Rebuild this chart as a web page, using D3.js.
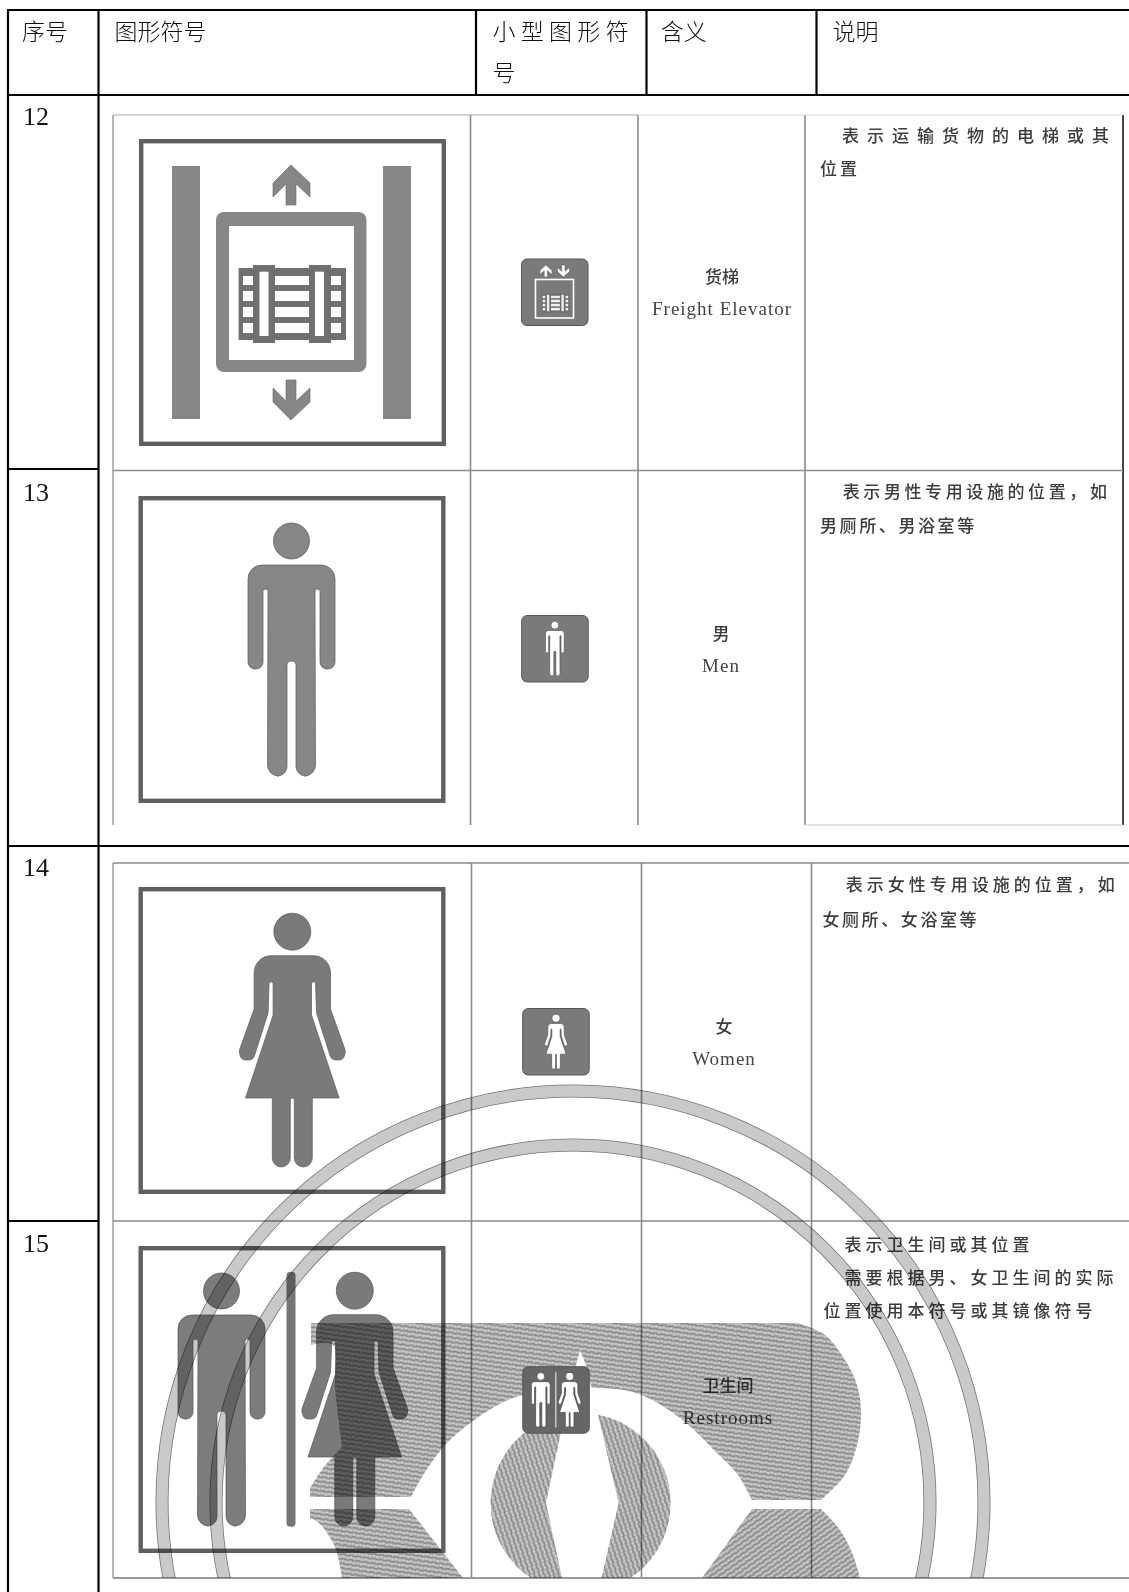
<!DOCTYPE html>
<html>
  <head>
    <meta charset="utf-8">
    <title>图形符号</title>
    <script src="https://d3js.org/d3.v7.min.js"></script>
    <style>
      html, body { margin: 0; padding: 0; background: #fff; }
      svg { display: block; }
      text { font-family: "Liberation Serif", "Noto Sans CJK SC", serif; }
      .cjk { font-family: "Noto Sans CJK SC", sans-serif; }
    </style>
  </head>
  <body>
    <svg width="1129" height="1592"></svg>
    <script>
      // table content
      const headerLabels = ['序号', '图形符号', '小 型 图 形 符', '号', '含义', '说明'];
      const rowNumbers = ['12', '13', '14', '15'];
      const meaningCn = ['货梯', '男', '女', '卫生间'];
      const meaningEn = ['Freight Elevator', 'Men', 'Women', 'Restrooms'];
      const noteLines = [
        ['表示运输货物的电梯或其', '位置'],
        ['表示男性专用设施的位置，如', '男厕所、男浴室等'],
        ['表示女性专用设施的位置，如', '女厕所、女浴室等'],
        ['表示卫生间或其位置', '需要根据男、女卫生间的实际', '位置使用本符号或其镜像符号']
      ];

      // page layout
      const tableCols = [8, 98.5, 476, 646.5, 816.5];
      const tableRows = [10, 95, 469, 846, 1221];
      const scanCols1 = [113, 470.5, 638, 805, 1123];
      const scanCols2 = [113, 471.5, 641.5, 811.5];
      const scanTops = [115, 470.5, 863, 1221];
      const scanBottoms = [825, 1578];
      const frames = [[139, 139], [138.5, 496], [138.5, 887], [138.5, 1246]];
      const icons = [[521.5, 259], [521.7, 615.5], [522.7, 1008.5], [522.8, 1366.7]];
      const frameSize = 307;
      const iconSize = 66.5;

      // symbols are drawn on a 0..307 grid, then scaled onto a frame or an icon
      const manHead = [153, 45, 18];
      const manHalf = [[196.5, 69, 14], [196.5, 173, 7], [181.5, 173, 7], [181.5, 93, 2.5], [176.5, 93, 2.5],
        [177, 280, 11], [157.5, 280, 9.5], [157.5, 165, 4]];
      const womanHead = [153.8, 44.7, 18.5];
      const womanHalf = [[192, 68.7, 17], [192, 122, 6], [207, 164, 6], [205, 173, 6], [193, 173, 6], [178, 126, 5],
        [177, 94.7, 2], [173, 94.7, 2], [173, 128, 5], [200.6, 211, 0], [173.8, 211, 0], [173.8, 280, 9],
        [155.8, 280, 9], [155.8, 211, 2]];
      const divider = [148, 25.7, 157, 280.7];
      const railXs = [[33, 61], [244, 272]];
      const railY = [27, 280];
      const arrowUp = [[152, 26], [171, 44], [171, 58], [157, 45], [157, 66], [147, 66], [147, 45], [134, 58], [134, 44]];
      const cargoUprights = [[114, 136, 120.5, 129.5], [170, 192, 176, 185]];
      const cargoRowYs = [[137, 146], [152, 162], [168, 178], [184, 194]];
      const cargoCells = [[104, 114], [136, 170], [192, 202]];

      // watermark outline segments (page coordinates), every list is one smooth run
      const bandSegments = [
        [[311, 1323], [798, 1323]],
        [[798, 1323], [825, 1335], [845, 1360], [857, 1385], [861, 1413], [857, 1445], [845, 1475], [821, 1500]],
        [[821, 1500], [752, 1500]],
        [[752, 1500], [738, 1475], [717, 1453], [680, 1418], [636, 1393], [593, 1388], [545, 1391], [508, 1400], [472, 1421.7], [447, 1443], [425, 1472], [411, 1497]],
        [[411, 1497], [310, 1497]],
        [[310, 1497], [310, 1488]],
        [[310, 1488], [324, 1467], [342, 1447]],
        [[342, 1447], [335, 1387], [333, 1345], [311, 1345]]
      ];
      const lobeRight = [
        [[752, 1509], [821, 1509]],
        [[821, 1509], [840, 1530], [853, 1555], [860, 1578]],
        [[860, 1578], [702, 1578]],
        [[702, 1578], [752, 1509]]
      ];
      const lobeLeft = [
        [[310, 1509], [409, 1509]],
        [[409, 1509], [463, 1578]],
        [[463, 1578], [342, 1578]],
        [[342, 1578], [335, 1547], [319, 1523], [310, 1518]]
      ];
      const lens = [[580, 1350], [586, 1365], [597, 1410], [618.6, 1503], [601.6, 1578], [562, 1578], [546, 1503], [561, 1432], [576, 1365]];
      const hub = [580.6, 1503, 90];
      const rings = [[573, 1502, 411], [573, 1502, 357]];

      const svg = d3.select('svg');
      const width = +svg.attr('width');
      const height = +svg.attr('height');
      const gridScale = (origin, size) => d3.scaleLinear().domain([0, frameSize]).range([origin, origin + size]);
      const smooth = d3.line().curve(d3.curveCatmullRom);
      const straight = d3.line();
      const joinRuns = runs => runs.map(r => smooth(r).replace('M', 'L')).join('').replace('L', 'M') + 'Z';

      const defs = svg.append('defs');
      const blur = defs.append('filter').attr('id', 'scan').attr('x', '-2%').attr('y', '-2%').attr('width', '104%').attr('height', '104%');
      blur.append('feGaussianBlur').attr('stdDeviation', 0.55);

      // hatching of the big watermark, three directions
      const hatch = (id, angle) => {
        const p = defs.append('pattern').attr('id', id)
          .attr('patternUnits', 'userSpaceOnUse').attr('width', 7.5).attr('height', 4.6)
          .attr('patternTransform', `rotate(${angle})`);
        p.append('rect').attr('width', 7.5).attr('height', 4.6).attr('fill', '#b4b4b4');
        p.append('path').attr('d', 'M0 1.2 Q1.9 0 3.75 1.2 T7.5 1.2').attr('fill', 'none').attr('stroke', '#7c7c7c').attr('stroke-width', 1.1);
        p.append('path').attr('d', 'M0.8 3.5 H2.9 M4.6 3.5 H6.8').attr('fill', 'none').attr('stroke', '#e4e4e4').attr('stroke-width', 1);
      };
      hatch('hatchBand', 8);
      hatch('hatchHub', 72);
      hatch('hatchLobe', -35);

      const lensMask = defs.append('mask').attr('id', 'lensCut').attr('maskUnits', 'userSpaceOnUse')
        .attr('x', 0).attr('y', 0).attr('width', width).attr('height', height);
      lensMask.append('rect').attr('width', width).attr('height', height).attr('fill', '#fff');
      lensMask.append('path').attr('d', straight(lens) + 'Z').attr('fill', '#000');
      defs.append('clipPath').attr('id', 'scanClip').append('rect')
        .attr('x', scanCols2[0]).attr('y', scanTops[2]).attr('width', width - scanCols2[0]).attr('height', scanBottoms[1] - scanTops[2]);

      // outline with rounded corners, points are [x, y, radius]
      const outline = (pts, sx, sy) => {
        const k = sx(1) - sx(0);
        const p = d3.path();
        const P = pts.map(d => [sx(d[0]), sy(d[1]), d[2] * k]);
        const last = P[P.length - 1];
        p.moveTo((last[0] + P[0][0]) / 2, (last[1] + P[0][1]) / 2);
        P.forEach((d, i) => {
          const n = P[(i + 1) % P.length];
          p.arcTo(d[0], d[1], n[0], n[1], d[2]);
        });
        p.closePath();
        return p.toString();
      };
      const mirrored = (half, cx) => half.concat(half.slice().reverse().map(d => [2 * cx - d[0], d[1], d[2]]));
      const manBody = mirrored(manHalf, manHead[0]);
      const womanBody = mirrored(womanHalf, womanHead[0]);

      const figure = (g, head, body, dx, sx, sy, fill, edge) => {
        const shift = d => sx(d + dx);
        g.append('path')
          .attr('d', outline(body.map(d => [d[0] + dx, d[1], d[2]]), sx, sy))
          .attr('fill', fill).attr('stroke', edge).attr('stroke-width', 0.7);
        g.append('circle').attr('cx', shift(head[0])).attr('cy', sy(head[1]))
          .attr('r', head[2] * (sx(1) - sx(0)))
          .attr('fill', fill).attr('stroke', edge).attr('stroke-width', 0.7);
      };

      const box = (g, x0, x1, y0, y1, fill, rx) => g.append('rect')
        .attr('x', x0).attr('y', y0).attr('width', x1 - x0).attr('height', y1 - y0)
        .attr('rx', rx || 0).attr('fill', fill);

      const cargo = (g, sx, sy, dark, light) => {
        box(g, sx(99.6), sx(207), sy(129), sy(201), dark);
        cargoUprights.forEach(u => {
          box(g, sx(u[0]), sx(u[1]), sy(126), sy(204), dark);
          box(g, sx(u[2]), sx(u[3]), sy(132.7), sy(197), light);
        });
        cargoCells.forEach(c => cargoRowYs.forEach(r => box(g, sx(c[0]), sx(c[1]), sy(r[0]), sy(r[1]), light)));
      };
      const arrow = (g, sx, sy, flip, fill) => g.append('path')
        .attr('d', straight(arrowUp.map(d => [sx(d[0]), sy(flip ? 307 - d[1] : d[1])])) + 'Z')
        .attr('fill', fill).attr('stroke', '#666').attr('stroke-width', 0.6);

      const label = (g, x, y, t, o) => g.append('text')
        .attr('x', x).attr('y', y).text(t)
        .attr('dominant-baseline', 'central')
        .attr('text-anchor', o.anchor || 'start')
        .attr('font-size', o.size)
        .attr('letter-spacing', o.spacing || 0)
        .attr('font-weight', o.weight || 400)
        .attr('class', o.cjk ? 'cjk' : null)
        .attr('fill', o.fill || '#111');

      // ---- the scanned pages
      const scan = svg.append('g').attr('filter', 'url(#scan)');
      const gray = '#8a8a8a';
      const rule = (x1, y1, x2, y2, c, w) => scan.append('line')
        .attr('x1', x1).attr('y1', y1).attr('x2', x2).attr('y2', y2)
        .attr('stroke', c || gray).attr('stroke-width', w || 1.5);

      scanCols1.forEach((x, i) => rule(x, scanTops[0], x, scanBottoms[0], i === 4 ? '#444' : (i === 0 ? '#a6a6a6' : gray), i === 4 ? 2 : 1.6));
      rule(scanCols1[0], scanTops[0], scanCols1[2], scanTops[0], '#a8a8a8', 1.2);
      rule(scanCols1[2], scanTops[0], scanCols1[4], scanTops[0], '#d8d8d8', 1.2);
      rule(scanCols1[0], scanTops[1], scanCols1[4], scanTops[1], '#8f8f8f', 1.6);
      rule(scanCols1[3], scanBottoms[0], scanCols1[4], scanBottoms[0], '#ccc', 1.2);
      scanCols2.forEach((x, i) => rule(x, scanTops[2], x, scanBottoms[1], i === 0 ? '#a6a6a6' : gray, 1.6));
      rule(scanCols2[0], scanTops[2], width, scanTops[2], '#888', 1.5);
      rule(scanCols2[0], scanTops[3], width, scanTops[3], '#8a8a8a', 1.6);
      rule(scanCols2[0], scanBottoms[1], width, scanBottoms[1], '#999', 1.8);

      frames.forEach(f => scan.append('rect')
        .attr('x', f[0] + 2.2).attr('y', f[1] + 2.2)
        .attr('width', frameSize - 4.4).attr('height', frameSize - 4.4)
        .attr('fill', 'none').attr('stroke', '#5e5e5e').attr('stroke-width', 4.4));

      // 12 freight elevator
      {
        const sx = gridScale(frames[0][0], frameSize), sy = gridScale(frames[0][1], frameSize);
        const fill = '#868686';
        railXs.forEach(r => box(scan, sx(r[0]), sx(r[1]), sy(railY[0]), sy(railY[1]), fill));
        arrow(scan, sx, sy, false, fill);
        arrow(scan, sx, sy, true, fill);
        box(scan, sx(77), sx(227.5), sy(73), sy(233), fill, 8);
        box(scan, sx(90), sx(215), sy(87), sy(221), '#fff');
        cargo(scan, sx, sy, '#707070', '#fff');
      }
      // 13, 14 large figures
      figure(scan, manHead, manBody, 0, gridScale(frames[1][0], frameSize), gridScale(frames[1][1], frameSize), '#868686', '#5a5a5a');
      figure(scan, womanHead, womanBody, 0, gridScale(frames[2][0], frameSize), gridScale(frames[2][1], frameSize), '#7a7a7a', '#5a5a5a');
      // 15 pair
      {
        const sx = gridScale(frames[3][0], frameSize), sy = gridScale(frames[3][1], frameSize);
        figure(scan, manHead, manBody, -70, sx, sy, '#7c7c7c', '#555');
        figure(scan, womanHead, womanBody, 62.5, sx, sy, '#7a7a7a', '#555');
        box(scan, sx(divider[0]), sx(divider[2]), sy(divider[1]), sy(divider[3]), '#767676', 4);
      }

      // small icons 12..14 (15 goes over the watermark)
      const iconBase = (g, i) => {
        g.append('rect').attr('x', icons[i][0]).attr('y', icons[i][1])
          .attr('width', iconSize).attr('height', iconSize).attr('rx', 5.5)
          .attr('fill', i === 3 ? '#666' : '#7a7a7a').attr('stroke', '#555').attr('stroke-width', 1);
        return [gridScale(icons[i][0], iconSize), gridScale(icons[i][1], iconSize)];
      };
      {
        const ox = icons[0][0], oy = icons[0][1];
        iconBase(scan, 0);
        [[18.5, false], [36, true]].forEach(a => {
          const ax = d3.scaleLinear().domain([134, 171]).range([ox + a[0], ox + a[0] + 12]);
          const ay = d3.scaleLinear().domain(a[1] ? [241, 281] : [26, 66]).range([oy + 6, oy + 18]);
          arrow(scan, ax, d => ay(d), a[1], '#fff');
        });
        scan.append('rect').attr('x', ox + 14).attr('y', oy + 20.5).attr('width', 38).attr('height', 38.5)
          .attr('fill', '#7a7a7a').attr('stroke', '#fff').attr('stroke-width', 1.6);
        const cx = d3.scaleLinear().domain([99.6, 207]).range([ox + 20, ox + 48]);
        const cy = d3.scaleLinear().domain([126, 204]).range([oy + 34, oy + 54]);
        cargo(scan, cx, cy, '#6e6e6e', '#f2f2f2');
      }
      [[1, manHead, manBody], [2, womanHead, womanBody]].forEach(d => {
        const s = iconBase(scan, d[0]);
        figure(scan, d[1], d[2], 0, s[0], s[1], '#fff', '#555');
      });

      // texts of the scan
      const serif = { size: 19, fill: '#444', spacing: 1 };
      const cn = { size: 17, fill: '#3c3c3c', cjk: true, anchor: 'middle', weight: 500 };
      const meaningAt = [[722, 275.7, 308], [721, 632.5, 665], [724, 1025.5, 1058], [728, 1384, 1417]];
      meaningCn.forEach((t, i) => {
        label(scan, meaningAt[i][0], meaningAt[i][1], t, cn);
        label(scan, meaningAt[i][0], meaningAt[i][2], meaningEn[i], Object.assign({ anchor: 'middle' }, serif));
      });
      const noteAt = [
        [[842, 134, 8], [820, 167.7, 3]],
        [[842.7, 490.4, 3.6], [820, 524, 2.6]],
        [[845.7, 883, 4], [822.4, 918, 2.6]],
        [[844.5, 1243, 4], [844.5, 1276.7, 4], [823.5, 1309, 4]]
      ];
      noteLines.forEach((lines, i) => lines.forEach((t, j) => {
        label(scan, noteAt[i][j][0], noteAt[i][j][1], t, { size: 17, fill: '#3c3c3c', cjk: true, spacing: noteAt[i][j][2], weight: 500 });
      }));

      // ---- watermark printed over rows 14 and 15
      const mark = svg.append('g').attr('clip-path', 'url(#scanClip)')
        .style('mix-blend-mode', 'multiply').attr('filter', 'url(#scan)');
      const hatched = mark.append('g').attr('mask', 'url(#lensCut)');
      hatched.append('path').attr('d', joinRuns(bandSegments)).attr('fill', 'url(#hatchBand)');
      hatched.append('path').attr('d', joinRuns(lobeRight)).attr('fill', 'url(#hatchLobe)');
      hatched.append('path').attr('d', joinRuns(lobeLeft)).attr('fill', 'url(#hatchBand)');
      hatched.append('circle').attr('cx', hub[0]).attr('cy', hub[1]).attr('r', hub[2]).attr('fill', 'url(#hatchHub)');
      rings.forEach(r => {
        mark.append('circle').attr('cx', r[0]).attr('cy', r[1]).attr('r', r[2])
          .attr('fill', 'none').attr('stroke', '#757575').attr('stroke-width', 13);
        mark.append('circle').attr('cx', r[0]).attr('cy', r[1]).attr('r', r[2])
          .attr('fill', 'none').attr('stroke', '#c9c9c9').attr('stroke-width', 11.4);
      });

      // restroom icon sits on top of the hatching
      {
        const g = svg.append('g').attr('filter', 'url(#scan)');
        const s = iconBase(g, 3);
        figure(g, manHead, manBody, -70, s[0], s[1], '#fff', '#444');
        figure(g, womanHead, womanBody, 62.5, s[0], s[1], '#fff', '#444');
        box(g, s[0](divider[0] + 2), s[0](divider[2] - 2), s[1](divider[1]), s[1](divider[3]), '#eee');
      }

      // ---- black table rules and typed text
      const tableG = svg.append('g');
      const black = (x1, y1, x2, y2) => tableG.append('line')
        .attr('x1', x1).attr('y1', y1).attr('x2', x2).attr('y2', y2)
        .attr('stroke', '#000').attr('stroke-width', 2.2);
      black(tableCols[0] - 1, tableRows[0], width, tableRows[0]);
      black(tableCols[0] - 1, tableRows[1], width, tableRows[1]);
      tableCols.slice(0, 2).forEach(x => black(x, tableRows[0], x, height));
      tableCols.slice(2).forEach(x => black(x, tableRows[0], x, tableRows[1]));
      black(tableCols[0], tableRows[2], tableCols[1], tableRows[2]);
      black(tableCols[0], tableRows[3], width, tableRows[3]);
      black(tableCols[0], tableRows[4], tableCols[1], tableRows[4]);

      const headerAt = [[22, 29.5, 0], [114.6, 29.5, 0], [492.5, 29.5, 0.1], [492.5, 71, 0], [660.7, 29.5, 0], [832.6, 29.5, 0]];
      headerLabels.forEach((t, i) => label(tableG, headerAt[i][0], headerAt[i][1], t,
        { size: 23, cjk: true, weight: 300, spacing: headerAt[i][2], fill: '#111' }));
      const numberY = [116, 492.5, 867.5, 1243];
      rowNumbers.forEach((t, i) => label(tableG, 23, numberY[i], t, { size: 26 }));
    </script>
  </body>
</html>
